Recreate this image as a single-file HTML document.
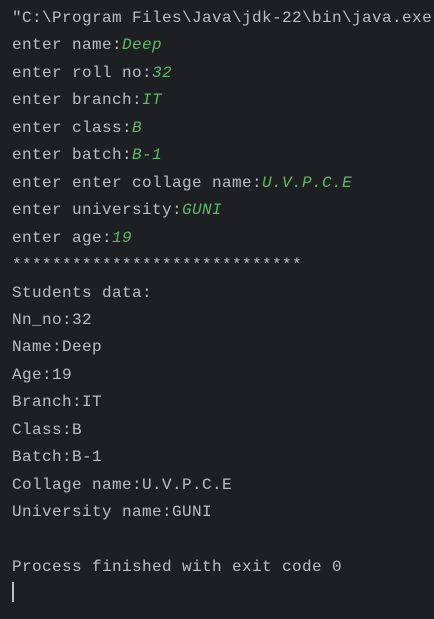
<!DOCTYPE html>
<html><head><style>
body{margin:0;background:#1e1f22;width:434px;height:619px;overflow:hidden}
.t{position:absolute;left:12px;top:5px;font-family:"Liberation Mono",monospace;font-size:16px;letter-spacing:0.4px;line-height:27.45px;color:#bcbec4;white-space:pre}
i{color:#5fb865}
.c{position:absolute;left:12px;top:582px;width:2px;height:20px;background:#bcbec4}
</style></head><body>
<div class="t">"C:\Program Files\Java\jdk-22\bin\java.exe
enter name:<i>Deep</i>
enter roll no:<i>32</i>
enter branch:<i>IT</i>
enter class:<i>B</i>
enter batch:<i>B-1</i>
enter enter collage name:<i>U.V.P.C.E</i>
enter university:<i>GUNI</i>
enter age:<i>19</i>
*****************************
Students data:
Nn_no:32
Name:Deep
Age:19
Branch:IT
Class:B
Batch:B-1
Collage name:U.V.P.C.E
University name:GUNI

Process finished with exit code 0</div>
<div class="c"></div>
</body></html>
